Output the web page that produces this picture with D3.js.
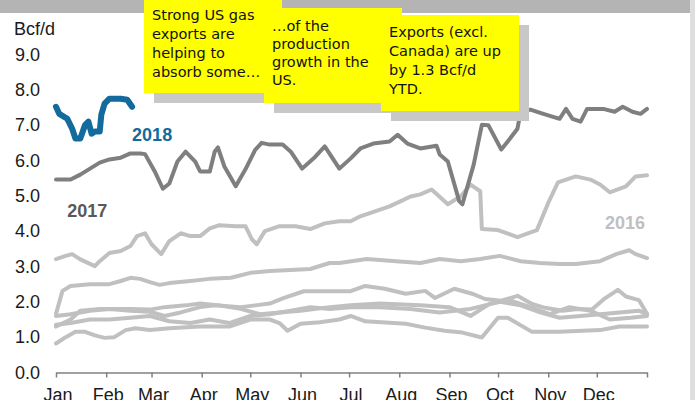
<!DOCTYPE html>
<html>
<head>
<meta charset="utf-8">
<script src="https://cdn.jsdelivr.net/npm/d3@7"></script>
<style>
  html, body { margin: 0; padding: 0; background: #fff; }
  #chart { width: 695px; height: 400px; overflow: hidden; }
  .note { font-family: "DejaVu Sans", sans-serif; font-size: 14.5px; fill: #111; }
  .axis text { font-family: "Liberation Sans", Arial, sans-serif; font-size: 18px; fill: #1a1a1a; }
  .yearLabel { font-family: "Liberation Sans", Arial, sans-serif; font-size: 18px; font-weight: bold; }
</style>
</head>
<body>
<div id="chart"></div>
<script>
// Data (day of year, Bcf/d)
const days2018 = [0, 2, 7, 10, 12, 15, 18, 20, 22, 24, 27, 28, 30, 33, 40, 44, 47];
const vals2018 = [7.52, 7.32, 7.18, 6.9, 6.62, 6.62, 7.01, 7.1, 6.76, 6.82, 6.82, 7.3, 7.61, 7.75, 7.75, 7.72, 7.52];

const days2017 = [0, 9, 15, 21, 27, 33, 40, 46, 52, 55, 61, 66, 70, 75, 80, 86, 89, 95, 98, 100, 104, 111, 117, 123, 127, 132, 140, 145, 152, 160, 166, 175, 182, 188, 196, 206, 211, 217, 225, 235, 237, 242, 249, 251, 258, 263, 267, 275, 279, 285, 287, 293, 301, 311, 315, 319, 324, 328, 338, 345, 350, 356, 361, 365];
const vals2017 = [5.46, 5.46, 5.6, 5.77, 5.94, 6.03, 6.08, 6.2, 6.2, 6.18, 5.69, 5.2, 5.35, 5.97, 6.25, 5.97, 5.69, 5.69, 6.25, 6.37, 5.83, 5.27, 5.75, 6.3, 6.5, 6.45, 6.45, 6.25, 5.77, 6.1, 6.4, 5.77, 6.06, 6.34, 6.48, 6.54, 6.73, 6.48, 6.34, 6.42, 6.17, 5.97, 4.85, 4.76, 5.89, 7.01, 7.0, 6.31, 6.54, 6.9, 7.38, 7.44, 7.32, 7.18, 7.46, 7.18, 7.1, 7.46, 7.46, 7.38, 7.52, 7.38, 7.32, 7.46];

const days2016 = [0, 6, 10, 15, 24, 27, 33, 40, 46, 50, 55, 59, 65, 70, 77, 83, 89, 95, 101, 111, 117, 121, 124, 129, 138, 148, 157, 166, 175, 182, 188, 197, 206, 213, 219, 225, 232, 242, 250, 256, 262, 263, 273, 285, 297, 304, 310, 321, 330, 336, 342, 352, 358, 365];
const vals2016 = [3.21, 3.3, 3.35, 3.2, 3.01, 3.15, 3.38, 3.44, 3.58, 3.86, 3.94, 3.63, 3.35, 3.72, 3.94, 3.86, 3.86, 4.08, 4.17, 4.14, 4.14, 3.77, 3.63, 4.0, 4.14, 4.14, 4.06, 4.22, 4.28, 4.28, 4.42, 4.56, 4.7, 4.85, 4.98, 5.04, 5.18, 4.76, 4.99, 5.32, 5.13, 4.06, 4.03, 3.83, 4.03, 4.8, 5.38, 5.55, 5.46, 5.32, 5.1, 5.27, 5.55, 5.58];

const daysA = [0, 4, 9, 21, 33, 40, 46, 52, 58, 64, 70, 83, 95, 108, 120, 132, 145, 157, 169, 175, 192, 210, 225, 237, 250, 262, 274, 287, 299, 311, 321, 336, 346, 354, 358, 365];
const valsA = [1.66, 2.31, 2.45, 2.5, 2.5, 2.59, 2.68, 2.65, 2.56, 2.48, 2.53, 2.59, 2.65, 2.68, 2.82, 2.87, 2.9, 2.93, 3.1, 3.1, 3.21, 3.15, 3.1, 3.21, 3.15, 3.21, 3.3, 3.15, 3.1, 3.07, 3.07, 3.15, 3.35, 3.46, 3.35, 3.24];

const daysB = [0, 9, 21, 33, 46, 58, 67, 77, 89, 98, 114, 123, 132, 140, 153, 182, 191, 203, 216, 228, 234, 246, 257, 265, 275, 285, 294, 302, 313, 322, 331, 339, 347, 352, 360, 365];
const valsB = [1.6, 1.65, 1.75, 1.8, 1.75, 1.72, 1.6, 1.7, 1.85, 1.9, 1.85, 1.9, 1.95, 2.1, 2.3, 2.3, 2.45, 2.37, 2.23, 2.31, 2.11, 2.37, 2.23, 2.08, 2.03, 2.17, 1.94, 1.83, 1.75, 1.8, 1.78, 2.1, 2.34, 2.15, 2.05, 1.66];

const daysC = [0, 9, 15, 27, 46, 58, 67, 80, 89, 101, 114, 126, 138, 151, 169, 182, 200, 225, 243, 256, 268, 280, 293, 305, 317, 330, 342, 355, 365];
const valsC = [1.3, 1.5, 1.75, 1.8, 1.8, 1.78, 1.85, 1.9, 1.95, 1.9, 1.8, 1.65, 1.7, 1.75, 1.85, 1.9, 1.95, 1.9, 1.85, 1.6, 1.95, 2.05, 1.85, 1.65, 1.85, 1.75, 1.5, 1.55, 1.6];

const daysD = [0, 9, 21, 33, 46, 58, 70, 83, 95, 107, 120, 132, 145, 157, 169, 182, 200, 219, 237, 256, 274, 287, 299, 311, 324, 336, 348, 360, 365];
const valsD = [1.35, 1.4, 1.5, 1.5, 1.55, 1.6, 1.45, 1.4, 1.5, 1.4, 1.6, 1.65, 1.75, 1.85, 1.8, 1.85, 1.85, 1.8, 1.7, 1.8, 2.0, 1.9, 1.7, 1.55, 1.6, 1.65, 1.7, 1.75, 1.65];

const daysE = [0, 6, 12, 18, 24, 30, 36, 43, 49, 58, 70, 89, 107, 120, 132, 138, 143, 151, 163, 175, 182, 191, 216, 228, 240, 251, 263, 273, 279, 294, 311, 336, 348, 365];
const valsE = [0.82, 1.0, 1.15, 1.15, 1.05, 0.98, 1.0, 1.2, 1.25, 1.2, 1.25, 1.3, 1.3, 1.5, 1.5, 1.4, 1.18, 1.38, 1.42, 1.5, 1.6, 1.45, 1.38, 1.27, 1.18, 1.13, 0.99, 1.55, 1.55, 1.15, 1.15, 1.2, 1.3, 1.3];

const monthNames = ["Jan", "Feb", "Mar", "Apr", "May", "Jun", "Jul", "Aug", "Sep", "Oct", "Nov", "Dec", ""];
const monthStarts = [0, 31, 59, 90, 120, 151, 181, 212, 243, 273, 304, 334, 365];
const yTicks = [0, 1, 2, 3, 4, 5, 6, 7, 8, 9];

const notes = [
  ["Strong US gas", "exports are", "helping to", "absorb some…"],
  ["…of the", "production", "growth in the", "US."],
  ["Exports (excl.", "Canada) are up", "by 1.3 Bcf/d", "YTD."]
];

// The svg
const w = 695;
const h = 400;
const svg = d3
  .select("#chart")
  .append("svg")
  .attr("width", w)
  .attr("height", h);

// scales
const x = d3.scaleLinear().domain([0, 365]).range([56, 647]);
const y = d3.scaleLinear().domain([0, 9]).range([372.5, 54.5]);

// frame decoration
svg.append("rect").attr("x", 0).attr("y", 0).attr("width", 690).attr("height", 13).attr("fill", "#b4b4b4");
svg.append("rect").attr("x", 690).attr("y", 0).attr("width", 5).attr("height", h).attr("fill", "#dedede");

// axes
const xAxis = d3
  .axisBottom(x)
  .tickValues(monthStarts)
  .tickFormat((d, i) => monthNames[i])
  .tickSize(5)
  .tickSizeOuter(0)
  .tickPadding(11);

const gx = svg
  .append("g")
  .attr("class", "axis")
  .attr("transform", "translate(0," + y(0) + ")")
  .call(xAxis);
gx.select(".domain").attr("stroke", "#808080").attr("stroke-width", 1.5);
gx.selectAll(".tick line").attr("stroke", "#808080").attr("stroke-width", 1.5);
gx.selectAll(".tick text").attr("dx", 1.5);

const yAxis = d3
  .axisLeft(y)
  .tickValues(yTicks)
  .tickFormat(d3.format(".1f"))
  .tickSize(0)
  .tickPadding(16);

const gy = svg
  .append("g")
  .attr("class", "axis")
  .attr("transform", "translate(56,0)")
  .call(yAxis);
gy.select(".domain").remove();

svg
  .append("text")
  .attr("x", 14)
  .attr("y", 35)
  .style("font-family", "Liberation Sans, Arial, sans-serif")
  .style("font-size", "18px")
  .attr("fill", "#1a1a1a")
  .text("Bcf/d");

// lines
const series = [
  { days: daysE, vals: valsE, color: "#c0c0c0", width: 4 },
  { days: daysD, vals: valsD, color: "#c0c0c0", width: 4 },
  { days: daysC, vals: valsC, color: "#c0c0c0", width: 4 },
  { days: daysB, vals: valsB, color: "#c0c0c0", width: 4 },
  { days: daysA, vals: valsA, color: "#c0c0c0", width: 4 },
  { days: days2016, vals: vals2016, color: "#c0c0c0", width: 4 },
  { days: days2017, vals: vals2017, color: "#7f7f7f", width: 4 },
  { days: days2018, vals: vals2018, color: "#126b9c", width: 6 }
];

const line = d3
  .line()
  .x((d) => x(d[0]))
  .y((d) => y(d[1]));

svg
  .append("g")
  .selectAll("path")
  .data(series)
  .join("path")
  .attr("d", (s) => line(d3.zip(s.days, s.vals)))
  .attr("fill", "none")
  .attr("stroke", (s) => s.color)
  .attr("stroke-width", (s) => s.width)
  .attr("stroke-linejoin", "round")
  .attr("stroke-linecap", "round");

// year labels
const yearLabels = [
  { text: "2018", day: 47, val: 6.55, color: "#126b9c" },
  { text: "2017", day: 7, val: 4.4, color: "#595959" },
  { text: "2016", day: 339, val: 4.05, color: "#c0c0c0" }
];
svg
  .selectAll(".yearLabel")
  .data(yearLabels)
  .join("text")
  .attr("class", "yearLabel")
  .attr("x", (d) => x(d.day))
  .attr("y", (d) => y(d.val))
  .attr("fill", (d) => d.color)
  .text((d) => d.text);

// note boxes
const boxes = [
  { x: 144, y: 0, w: 138, h: 93, tx: 152, ty: 20, lh: 19 },
  { x: 264, y: 8, w: 138, h: 95, tx: 272, ty: 31, lh: 18 },
  { x: 381, y: 15, w: 138, h: 96, tx: 389, ty: 37, lh: 19 }
];

boxes.forEach(function (b, i) {
  const g = svg.append("g");
  g.append("rect")
    .attr("x", b.x + 10)
    .attr("y", b.y + 10)
    .attr("width", b.w)
    .attr("height", b.h)
    .attr("fill", "#c8c8c8");
  g.append("rect")
    .attr("x", b.x)
    .attr("y", b.y)
    .attr("width", b.w)
    .attr("height", b.h)
    .attr("fill", "#ffff00");
  g.selectAll("text")
    .data(notes[i])
    .join("text")
    .attr("class", "note")
    .attr("x", b.tx)
    .attr("y", (d, j) => b.ty + j * b.lh)
    .text((d) => d);
});
</script>
</body>
</html>
